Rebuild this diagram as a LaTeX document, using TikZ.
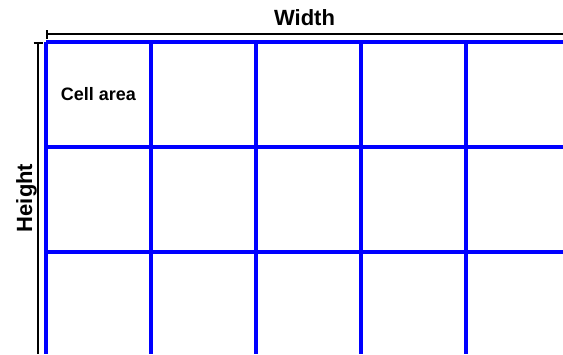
\documentclass[tikz,border=0pt]{standalone}
\usepackage{fontspec}
\setmainfont{Liberation Sans}
\usetikzlibrary{arrows.meta, positioning}

\begin{document}
\begin{tikzpicture}[
    x=1pt, y=-1pt,
    gridline/.style={draw=blue, line width=3.2pt},
    dimline/.style={{Bar[width=9pt, line width=2pt]}-, line width=2.7pt, color=black},
    lbl/.style={font=\bfseries\fontsize{22}{26}\selectfont, inner sep=0pt},
    celltext/.style={font=\bfseries\fontsize{18}{22}\selectfont, inner sep=0pt}
  ]
  \useasboundingbox (0,0) rectangle (563,354);
  % grid of cells
  \foreach \i in {0,...,4}
    \draw[gridline] (46+105*\i,42) -- (46+105*\i,354);
  \foreach \j in {0,1,2}
    \draw[gridline] (46,42+105*\j) -- (563,42+105*\j);
  \node[celltext] (cell) at (98.5,94.5) {Cell area};
  % dimension lines
  \coordinate (wl) at (46,34);
  \coordinate (wr) at (563,34);
  \coordinate (ht) at (38,42);
  \coordinate (hb) at (38,354);
  \draw[dimline] (wl) -- (wr)
    node[midway, lbl, above=7pt] (width) {Width};
  \draw[dimline] (ht) -- (hb)
    node[midway, lbl, left=6pt, anchor=base, rotate=90] (height) {Height};
\end{tikzpicture}
\end{document}
